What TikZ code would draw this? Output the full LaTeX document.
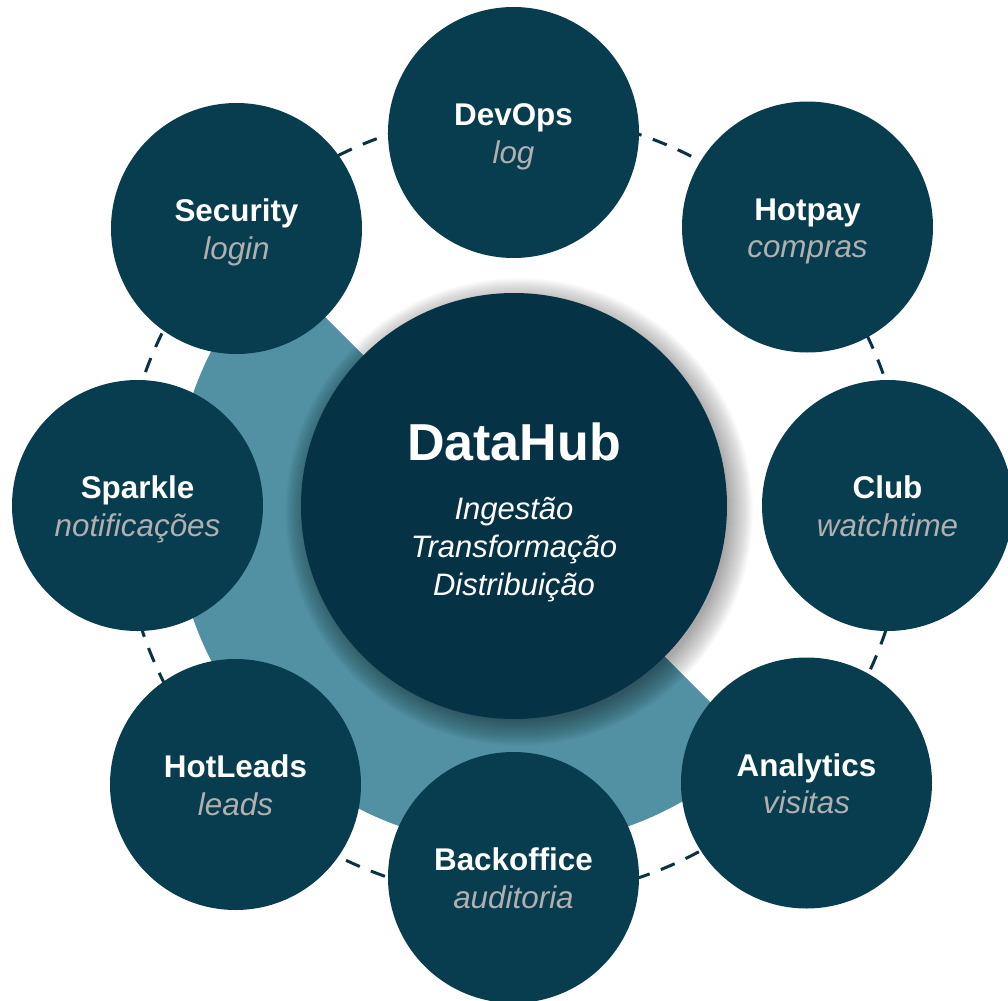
\documentclass[tikz,border=0pt]{standalone}
\usepackage{fontspec}
\setmainfont{Liberation Sans}
\usetikzlibrary{calc}
\definecolor{satcol}{HTML}{073D4F}
\definecolor{hubcol}{HTML}{053345}
\definecolor{ringcol}{HTML}{5291A3}
\definecolor{dashcol}{HTML}{0A3242}
\definecolor{subcol}{HTML}{B0B0B0}
\tikzset{
  sat/.style={circle, fill=satcol, minimum size=125.5pt, inner sep=0pt},
  hub/.style={circle, fill=hubcol, minimum size=213pt, inner sep=0pt},
  ttl/.style={anchor=base, text=white, font=\fontsize{15.7}{18}\selectfont\bfseries, inner sep=0pt},
  sub/.style={anchor=base, text=subcol, font=\fontsize{15.7}{18}\selectfont\itshape, inner sep=0pt},
  hubttl/.style={anchor=base, text=white, font=\fontsize{26}{30}\selectfont\bfseries, inner sep=0pt},
  hubsub/.style={anchor=base, text=white, font=\fontsize{15.5}{18}\selectfont\itshape, inner sep=0pt},
  ringline/.style={draw=dashcol, line width=1.5pt, dash pattern=on 7.5pt off 6pt},
}
\begin{document}
\begin{tikzpicture}[x=0.5pt,y=0.5pt]
\useasboundingbox (0,0) rectangle (1008,-1001);
\clip (0,0) rectangle (1008,-1001);
\coordinate (C) at (514,-506);
% teal half disk
\fill[ringcol] (C) -- ++(135:340) arc[start angle=135,end angle=315,radius=340] -- cycle;
% dashed ring
\draw[ringline] (C) circle[radius=392];
% shadow of hub
\foreach \k in {1,...,26}{
  \fill[black, opacity=0.016] ($(C)+(5,-6)$) circle[radius=208+\k];
}
\node[hub] (hub) at (C) {};
\node[hubttl] (hubt) at (514,-460) {DataHub};
\node[hubsub] (hub1) at (514,-519) {Ingestão};
\node[hubsub] (hub2) at (514,-557) {Transformação};
\node[hubsub] (hub3) at (514,-595) {Distribuição};
% satellites
\foreach \n/\x/\y/\t/\s in {
  devops/513.5/132.5/DevOps/log,
  hotpay/807.5/227/Hotpay/compras,
  club/887.5/505.5/Club/watchtime,
  analytics/806.5/783/Analytics/visitas,
  backoffice/513.5/877.5/Backoffice/auditoria,
  hotleads/235.5/784.5/HotLeads/leads,
  sparkle/137.5/505.5/Sparkle/notificações,
  security/236.5/228.5/Security/login}{
  \node[sat] (\n) at (\x,-\y) {};
  \node[ttl] (\n-t) at (\x,-\y+7) {\t};
  \node[sub] (\n-s) at (\x,-\y-30.5) {\s};
}
\end{tikzpicture}
\end{document}
